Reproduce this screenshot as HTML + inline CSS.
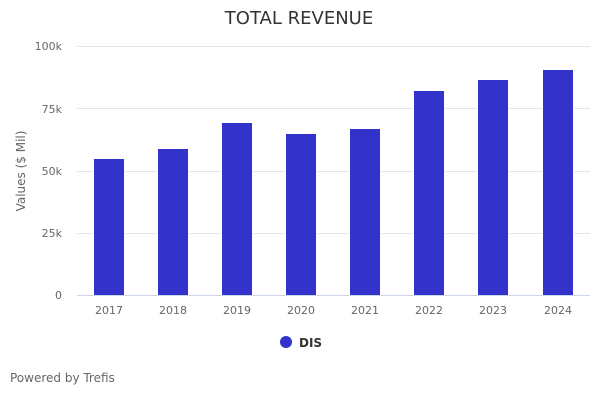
<!DOCTYPE html>
<html>
<head>
<meta charset="utf-8">
<style>
  html, body { margin:0; padding:0; background:#fff; }
  svg { display:block; font-family:"DejaVu Sans","Liberation Sans",sans-serif; }
</style>
</head>
<body>
<svg width="600" height="400" viewBox="0 0 600 400" xmlns="http://www.w3.org/2000/svg">
  <rect x="0" y="0" width="600" height="400" fill="#ffffff"/>
  <!-- title -->
  <text x="299" y="24" text-anchor="middle" font-size="18" fill="#333333">TOTAL REVENUE</text>

  <!-- gridlines -->
  <g stroke="#e6e6e6" stroke-width="1">
    <line x1="77" y1="46.5" x2="590" y2="46.5"/>
    <line x1="77" y1="108.5" x2="590" y2="108.5"/>
    <line x1="77" y1="171.5" x2="590" y2="171.5"/>
    <line x1="77" y1="233.5" x2="590" y2="233.5"/>
  </g>

  <!-- y labels -->
  <g font-size="11" fill="#666666" text-anchor="end">
    <text x="62" y="50">100k</text>
    <text x="62" y="113">75k</text>
    <text x="62" y="175">50k</text>
    <text x="62" y="237">25k</text>
    <text x="62" y="299">0</text>
  </g>

  <!-- axis title -->
  <text transform="translate(25,171) rotate(-90)" text-anchor="middle" font-size="12" fill="#666666">Values ($ Mil)</text>

  <!-- bars -->
  <g fill="#3333cc" stroke="#ffffff" stroke-width="1">
    <rect x="93.5" y="158.5" width="31" height="137"/>
    <rect x="157.5" y="148.5" width="31" height="147"/>
    <rect x="221.5" y="122.5" width="31" height="173"/>
    <rect x="285.5" y="133.5" width="31" height="162"/>
    <rect x="349.5" y="128.5" width="31" height="167"/>
    <rect x="413.5" y="90.5" width="31" height="205"/>
    <rect x="477.5" y="79.5" width="31" height="216"/>
    <rect x="542.5" y="69.5" width="31" height="226"/>
  </g>

  <!-- x axis line -->
  <line x1="77" y1="295.5" x2="590" y2="295.5" stroke="#ccd6eb" stroke-width="1"/>

  <!-- x labels -->
  <g font-size="11" fill="#666666" text-anchor="middle">
    <text x="109" y="314">2017</text>
    <text x="173" y="314">2018</text>
    <text x="237" y="314">2019</text>
    <text x="301" y="314">2020</text>
    <text x="365" y="314">2021</text>
    <text x="429" y="314">2022</text>
    <text x="493" y="314">2023</text>
    <text x="558" y="314">2024</text>
  </g>

  <!-- legend -->
  <circle cx="286" cy="342" r="6" fill="#3333cc"/>
  <text x="299" y="347" font-size="12" font-weight="bold" fill="#333333">DIS</text>

  <!-- credits -->
  <text x="10" y="382" font-size="12" fill="#666666">Powered by Trefis</text>
</svg>
</body>
</html>
